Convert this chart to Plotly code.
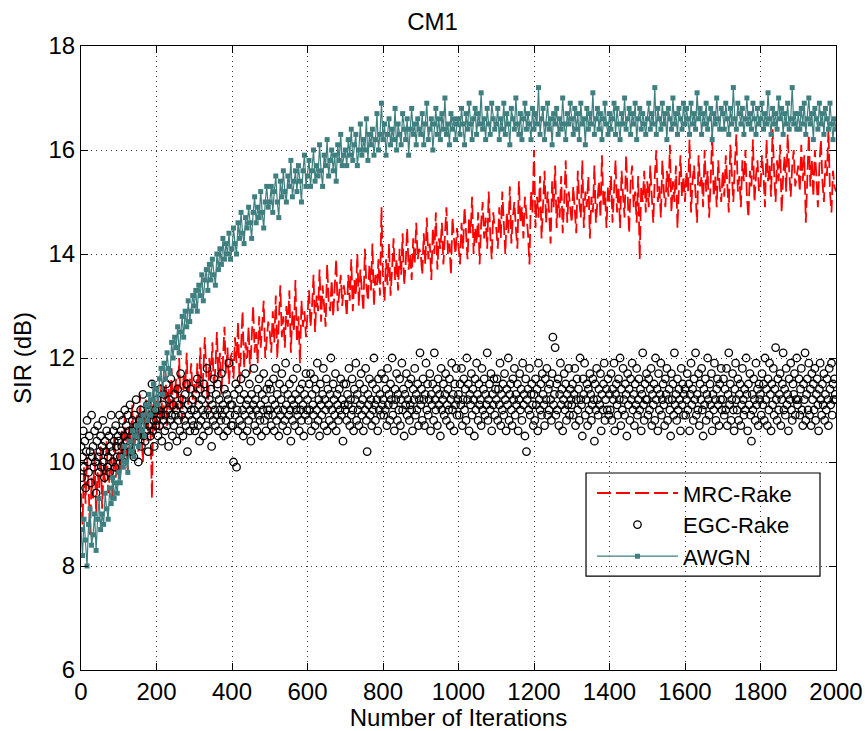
import plotly.graph_objects as go

# ---- data (SIR in dB vs. iteration) ----
# MRC-Rake and AWGN sampled every 4 iterations, EGC-Rake every 2 iterations
awgn_sir = [
    8.7, 8.2, 8.9, 8.5, 8.0, 8.8, 9.1, 8.4, 8.6, 9.0, 8.3, 8.9, 9.3, 8.7, 9.0, 8.8, 9.4, 9.1, 8.9, 9.5, 9.2, 9.7, 9.3, 9.6, 9.4,
    9.8, 9.6, 10.1, 9.9, 10.3, 10.0, 9.8, 10.4, 10.2, 10.6, 10.1, 10.5, 10.7, 10.3, 10.8, 10.6, 10.9, 10.5, 11.1, 10.8, 11.3, 10.9, 11.2, 11.5, 11.0,
    11.4, 11.1, 11.6, 11.8, 11.3, 11.9, 11.6, 12.1, 11.8, 11.7, 12.3, 12.0, 12.4, 12.2, 12.6, 12.1, 12.5, 12.8, 12.4, 12.9, 12.6, 13.1, 12.7, 12.9, 13.2,
    13.0, 13.3, 12.9, 13.4, 13.2, 13.6, 13.1, 13.5, 13.7, 13.3, 13.8, 13.5, 13.9, 13.6, 13.4, 14.0, 13.7, 14.1, 13.8, 14.3, 13.9, 14.2, 14.0, 14.4, 13.9,
    14.1, 14.5, 14.2, 14.0, 14.6, 14.3, 14.8, 14.4, 14.2, 14.7, 14.5, 14.9, 14.6, 14.3, 14.8, 15.1, 14.6, 14.9, 14.7, 15.2, 14.8, 14.5, 15.0, 15.3, 14.9,
    15.0, 15.3, 14.8, 15.2, 15.5, 15.0, 14.7, 15.4, 15.1, 15.6, 15.2, 15.0, 15.5, 15.3, 15.8, 15.1, 15.4, 15.6, 15.2, 15.7, 15.4, 15.0, 15.6, 15.9, 15.3,
    15.5, 15.8, 15.3, 15.6, 16.0, 15.4, 15.7, 15.5, 16.1, 15.6, 15.3, 15.9, 15.7, 16.2, 15.5, 15.8, 16.0, 15.6, 15.9, 15.4, 16.1, 15.8, 16.3, 15.7, 15.9,
    16.0, 15.7, 16.2, 15.9, 16.4, 15.8, 16.1, 16.3, 15.7, 16.0, 16.5, 15.9, 16.2, 16.0, 16.6, 15.8, 16.3, 16.1, 16.4, 15.9, 16.2, 16.7, 16.0, 16.3, 16.9,
    16.2, 16.5, 15.9, 16.3, 16.6, 16.1, 16.4, 16.2, 16.8, 16.0, 16.5, 16.3, 16.1, 16.7, 16.4, 16.2, 16.6, 15.9, 16.4, 16.8, 16.3, 16.5, 16.1, 16.6, 16.4,
    16.3, 16.7, 16.1, 16.5, 16.9, 16.2, 16.4, 16.6, 16.0, 16.5, 16.8, 16.3, 16.6, 16.2, 16.7, 16.4, 17.0, 16.3, 16.5, 16.1, 16.7, 16.4, 16.6, 16.2, 16.5,
    16.6, 16.3, 16.8, 16.5, 16.1, 16.7, 16.4, 16.9, 16.5, 16.2, 16.6, 16.8, 16.3, 16.7, 16.5, 17.1, 16.4, 16.6, 16.2, 16.8, 16.5, 16.3, 16.9, 16.6, 16.4,
    16.5, 16.8, 16.2, 16.6, 16.4, 16.9, 16.3, 16.7, 16.5, 16.1, 16.8, 16.6, 16.4, 17.0, 16.5, 16.3, 16.7, 16.2, 16.6, 16.9, 16.4, 16.7, 16.5, 16.2, 16.8,
    16.4, 16.7, 16.5, 17.2, 16.3, 16.6, 16.8, 16.2, 16.5, 16.9, 16.4, 16.6, 16.1, 16.7, 16.5, 16.8, 16.3, 16.6, 16.4, 17.0, 16.5, 16.2, 16.7, 16.5, 16.9,
    16.6, 16.3, 16.8, 16.4, 16.7, 16.2, 16.9, 16.5, 16.6, 16.1, 16.8, 16.4, 16.7, 16.5, 17.1, 16.3, 16.6, 16.8, 16.4, 16.7, 16.2, 16.6, 16.9, 16.5, 16.3,
    16.7, 16.4, 16.6, 16.9, 16.3, 16.8, 16.5, 16.2, 16.7, 16.5, 17.0, 16.4, 16.6, 16.8, 16.3, 16.7, 16.5, 16.9, 16.2, 16.6, 16.8, 16.4, 16.7, 16.5, 16.3,
    16.6, 16.9, 16.4, 16.7, 16.5, 17.2, 16.3, 16.8, 16.6, 16.4, 16.9, 16.5, 16.7, 16.2, 16.8, 16.6, 16.4, 17.0, 16.5, 16.7, 16.3, 16.8, 16.6, 16.4, 16.9,
    16.5, 16.8, 16.6, 16.3, 16.9, 16.5, 16.7, 16.4, 17.1, 16.6, 16.8, 16.3, 16.7, 16.5, 16.9, 16.4, 16.6, 16.8, 16.2, 16.7, 16.5, 17.0, 16.6, 16.4, 16.8,
    16.7, 16.4, 16.9, 16.6, 16.3, 16.8, 16.5, 17.2, 16.6, 16.4, 16.9, 16.7, 16.5, 16.8, 16.3, 16.6, 17.0, 16.5, 16.7, 16.4, 16.9, 16.6, 16.3, 16.8, 16.5,
    16.6, 16.9, 16.4, 16.7, 16.5, 17.1, 16.6, 16.3, 16.8, 16.5, 16.7, 16.4, 17.0, 16.6, 16.8, 16.3, 16.7, 16.5, 16.9, 16.4, 16.6, 17.2, 16.5, 16.7, 16.4,
    16.7, 16.4, 16.8, 16.5, 16.9, 16.3, 16.6, 17.0, 16.5, 16.7, 16.2, 16.8, 16.6, 16.4, 16.9, 16.5, 16.7, 16.3, 16.8, 16.6, 16.4, 16.9, 16.5, 16.2, 16.6,
    16.4,
]

mrc_sir = [
    9.4, 8.8, 9.9, 9.2, 10.1, 9.6, 8.6, 9.7, 9.3, 10.2, 9.0, 9.8, 9.5, 10.3, 9.1, 9.9, 9.6, 10.4, 9.4, 9.8, 10.1, 9.3, 10.5, 9.7, 10.0,
    10.2, 9.7, 10.6, 10.0, 10.9, 10.3, 9.8, 10.7, 10.4, 11.1, 10.1, 10.5, 10.9, 10.2, 11.3, 10.6, 10.0, 10.8, 11.2, 10.4, 11.0, 10.7, 9.3, 11.4, 10.6,
    10.9, 11.3, 10.6, 11.5, 10.8, 11.1, 11.7, 10.7, 11.4, 11.0, 11.8, 10.9, 11.3, 11.6, 11.0, 12.0, 11.2, 10.8, 11.7, 11.4, 12.1, 11.1, 11.5, 11.9, 11.2,
    11.5, 11.1, 11.9, 11.4, 12.2, 11.3, 11.7, 12.4, 11.5, 11.0, 12.0, 11.6, 12.3, 11.4, 11.8, 12.5, 11.6, 12.1, 11.3, 11.9, 12.6, 11.7, 12.2, 11.5, 12.0,
    12.1, 11.6, 12.4, 11.9, 12.7, 11.5, 12.2, 12.9, 11.8, 12.3, 12.0, 12.6, 11.7, 12.4, 13.0, 12.1, 12.5, 11.9, 12.8, 12.2, 12.6, 13.1, 12.0, 12.4, 12.7,
    12.5, 12.1, 12.9, 12.3, 13.2, 12.0, 12.7, 13.4, 12.4, 12.8, 12.2, 13.0, 12.6, 13.3, 12.1, 12.9, 12.5, 13.5, 12.3, 12.8, 11.9, 13.1, 12.6, 12.9, 12.4,
    12.8, 13.3, 12.6, 13.0, 13.6, 12.5, 13.2, 12.9, 13.7, 12.7, 13.4, 13.0, 12.6, 13.8, 13.1, 12.9, 13.5, 12.8, 13.3, 13.9, 12.9, 13.2, 13.6, 13.0, 13.4,
    13.2, 12.8, 13.6, 13.1, 13.9, 12.9, 13.5, 13.2, 14.0, 13.0, 13.7, 13.3, 12.9, 14.1, 13.4, 13.1, 13.8, 13.3, 14.2, 13.0, 13.6, 13.4, 13.9, 13.2, 14.9,
    13.5, 13.1, 13.9, 13.4, 14.2, 13.2, 13.7, 14.3, 13.5, 13.9, 13.3, 14.1, 13.6, 14.4, 13.4, 13.8, 14.5, 13.7, 14.0, 13.5, 14.3, 13.8, 14.6, 13.9, 14.1,
    14.0, 13.6, 14.4, 13.8, 14.7, 13.9, 14.2, 13.5, 14.5, 14.0, 14.8, 13.7, 14.3, 14.1, 14.6, 13.8, 14.4, 14.9, 14.0, 14.2, 13.6, 14.7, 14.3, 14.0, 14.5,
    14.2, 13.8, 14.6, 14.1, 14.9, 14.3, 13.9, 14.7, 14.4, 15.1, 14.0, 14.5, 14.2, 14.8, 13.8, 14.6, 15.0, 14.3, 14.7, 14.1, 15.2, 14.4, 13.9, 14.8, 14.5,
    14.5, 14.1, 14.9, 14.3, 15.2, 14.6, 14.0, 14.8, 14.4, 15.3, 14.2, 14.7, 15.0, 14.5, 14.1, 15.4, 14.6, 14.9, 14.3, 15.1, 14.7, 14.4, 13.8, 15.2, 14.8,
    16.0, 14.5, 15.1, 14.7, 15.5, 14.3, 14.9, 15.6, 14.6, 15.2, 14.8, 14.2, 15.4, 14.9, 15.7, 14.5, 15.1, 14.7, 15.5, 14.4, 15.0, 15.8, 14.6, 15.2, 14.9,
    14.6, 15.3, 14.9, 14.4, 15.6, 15.0, 14.7, 15.8, 14.5, 15.2, 14.9, 15.5, 14.3, 15.1, 14.8, 15.7, 14.6, 15.0, 15.4, 14.7, 15.9, 14.9, 15.2, 14.5, 15.3,
    15.0, 15.5, 14.6, 15.2, 15.8, 14.8, 15.3, 14.5, 15.6, 15.1, 14.7, 15.9, 15.0, 14.4, 15.4, 15.7, 14.9, 15.2, 14.6, 15.5, 13.9, 15.3, 15.0, 15.6, 14.8,
    15.4, 14.9, 15.7, 15.1, 14.6, 15.5, 16.0, 15.0, 15.3, 14.7, 15.8, 15.2, 14.9, 15.6, 15.1, 16.1, 14.8, 15.4, 15.0, 15.7, 14.5, 15.3, 15.9, 15.1, 15.5,
    15.0, 15.6, 15.2, 16.2, 14.8, 15.4, 15.7, 15.1, 14.6, 15.9, 15.3, 15.5, 14.9, 16.0, 15.2, 15.6, 14.7, 15.4, 16.3, 15.1, 15.5, 14.9, 15.8, 15.3, 15.0,
    15.6, 15.1, 15.9, 15.3, 14.8, 16.1, 15.4, 15.0, 15.7, 16.3, 15.2, 15.5, 14.9, 15.8, 15.4, 16.0, 15.1, 14.7, 15.6, 15.3, 16.2, 15.0, 15.5, 15.8, 15.2,
    15.3, 15.9, 15.5, 14.9, 16.2, 15.4, 15.7, 15.1, 16.4, 15.6, 15.0, 15.8, 15.4, 16.1, 14.8, 15.5, 15.9, 15.2, 16.3, 15.6, 15.1, 15.7, 16.0, 15.3, 15.5,
    15.7, 15.2, 16.1, 15.4, 15.9, 14.6, 15.6, 16.3, 15.3, 15.8, 15.1, 16.0, 15.5, 14.9, 15.7, 16.2, 15.4, 15.0, 15.8, 15.5, 16.4, 15.2, 14.8, 15.6, 15.3,
    15.2,
]

egc_sir = [
    10.3, 9.7, 10.1, 10.6, 9.9, 10.4, 9.5, 10.2, 10.8, 10.0, 9.8, 10.5, 10.2, 9.6, 10.9, 10.1, 10.3, 9.9, 10.6, 10.0, 9.4, 10.4, 10.7, 10.1, 9.8,
    10.2, 10.5, 9.9, 10.3, 10.8, 10.0, 9.7, 10.4, 10.2, 10.6, 9.9, 10.1, 10.5, 9.8, 10.3, 10.9, 10.2, 10.0, 10.6, 10.4, 9.9, 10.7, 10.3, 10.1, 10.5,
    10.4, 10.9, 10.1, 10.6, 10.3, 10.8, 10.0, 10.5, 11.0, 10.2, 10.7, 10.4, 10.9, 10.3, 10.6, 11.1, 10.5, 10.2, 10.8, 10.6, 10.1, 10.9, 10.4, 11.2, 10.7,
    10.5, 10.0, 10.8, 10.6, 11.0, 10.3, 10.7, 11.3, 10.5, 10.9, 10.4, 10.8, 10.6, 11.1, 10.2, 10.7, 11.0, 10.5, 10.9, 11.5, 10.6, 10.8, 10.3, 11.0, 10.7,
    10.8, 11.2, 10.5, 11.0, 10.7, 11.4, 10.9, 10.4, 11.1, 10.8, 11.3, 10.6, 10.9, 11.5, 10.7, 11.0, 10.3, 11.2, 10.8, 11.6, 10.9, 10.5, 11.1, 10.7, 11.3,
    10.9, 11.0, 10.4, 11.4, 10.8, 11.1, 10.6, 11.7, 10.9, 11.2, 10.5, 11.0, 10.8, 11.3, 10.7, 11.5, 10.2, 11.1, 10.9, 10.6, 11.4, 11.0, 10.8, 11.2, 10.7,
    11.0, 10.6, 11.3, 10.9, 11.6, 10.7, 11.1, 10.4, 11.4, 10.8, 11.2, 11.0, 10.5, 11.5, 10.9, 11.3, 10.7, 11.8, 11.0, 10.6, 11.2, 10.9, 11.4, 10.3, 11.1,
    10.8, 11.6, 11.0, 10.7, 11.3, 10.9, 11.5, 10.6, 11.2, 11.0, 10.8, 11.7, 10.9, 11.1, 10.5, 11.4, 11.0, 10.8, 11.3, 10.6, 11.2, 11.9, 10.9, 11.1, 10.7,
    11.1, 10.7, 10.0, 11.3, 10.9, 11.5, 9.9, 11.0, 10.6, 11.4, 10.8, 11.2, 11.6, 10.7, 11.0, 10.5, 11.3, 10.9, 11.7, 11.1, 10.6, 11.2, 10.8, 11.5, 11.0,
    10.4, 11.3, 10.9, 11.1, 11.8, 10.7, 11.2, 11.0, 10.6, 11.4, 10.9, 11.6, 10.8, 11.1, 10.5, 11.3, 11.0, 11.7, 10.8, 11.2, 10.6, 11.4, 11.0, 10.9, 11.5,
    11.0, 11.4, 10.7, 11.2, 10.9, 11.6, 10.6, 11.1, 11.8, 10.8, 11.3, 11.0, 10.5, 11.5, 10.9, 11.2, 11.7, 10.7, 11.0, 11.4, 10.8, 11.9, 11.1, 10.6, 11.3,
    10.9, 11.5, 11.0, 10.4, 11.2, 10.8, 11.6, 11.1, 10.7, 11.3, 11.0, 11.8, 10.9, 11.2, 10.6, 11.4, 11.0, 10.8, 11.5, 11.1, 10.5, 11.3, 10.9, 11.7, 11.0,
    11.2, 10.8, 11.5, 11.0, 11.7, 10.6, 11.3, 11.1, 10.9, 11.6, 10.7, 11.4, 11.0, 11.9, 10.8, 11.2, 10.5, 11.5, 11.1, 10.9, 11.3, 11.8, 10.7, 11.2, 11.0,
    11.6, 10.6, 11.4, 11.1, 10.8, 11.3, 12.0, 11.0, 10.7, 11.5, 11.2, 10.9, 11.7, 10.6, 11.3, 11.1, 10.8, 11.4, 11.0, 11.6, 10.9, 11.2, 10.4, 11.5, 11.1,
    11.0, 11.5, 10.8, 11.3, 11.1, 11.8, 10.7, 11.2, 10.9, 11.6, 11.0, 10.6, 11.4, 11.2, 11.9, 10.8, 11.3, 11.0, 10.7, 11.5, 11.1, 11.7, 10.9, 11.2, 10.6,
    11.4, 11.0, 11.8, 10.8, 10.2, 11.3, 11.1, 11.6, 10.9, 11.2, 10.7, 11.5, 11.0, 12.0, 11.1, 10.8, 11.4, 11.2, 10.6, 11.6, 11.0, 11.3, 10.9, 11.7, 11.1,
    11.2, 10.9, 11.6, 11.0, 11.4, 10.7, 11.8, 11.1, 11.3, 10.8, 11.5, 11.2, 12.0, 10.9, 11.1, 10.6, 11.4, 11.2, 11.7, 10.8, 11.3, 11.0, 11.6, 10.7, 11.2,
    11.9, 11.0, 11.4, 10.5, 11.3, 11.1, 11.7, 10.9, 11.2, 11.5, 10.8, 11.1, 11.6, 11.0, 10.6, 11.4, 11.2, 11.8, 10.9, 11.3, 11.0, 11.5, 10.7, 11.2, 12.1,
    11.1, 11.4, 10.8, 11.6, 11.2, 10.7, 11.3, 11.9, 11.0, 11.5, 10.9, 11.2, 11.7, 10.6, 11.3, 11.1, 11.5, 10.8, 12.1, 11.2, 11.0, 11.4, 10.7, 11.6, 11.1,
    11.3, 10.5, 11.8, 11.0, 11.2, 11.5, 10.9, 11.3, 11.7, 10.8, 11.1, 11.4, 11.0, 11.6, 10.7, 11.2, 11.9, 11.0, 11.3, 10.6, 11.5, 11.1, 11.8, 10.9, 11.2,
    11.3, 10.9, 11.5, 11.1, 11.8, 10.7, 11.2, 11.6, 11.0, 11.4, 10.8, 12.0, 11.2, 11.5, 10.6, 11.3, 11.1, 11.7, 10.9, 11.4, 11.2, 10.5, 11.6, 11.0, 11.9,
    11.3, 10.8, 11.5, 11.1, 11.2, 10.7, 11.8, 11.0, 11.4, 11.6, 10.9, 11.3, 11.1, 12.1, 10.8, 11.2, 11.5, 11.0, 11.7, 10.6, 11.3, 11.1, 11.6, 10.9, 11.4,
    11.2, 11.6, 10.8, 11.4, 11.1, 11.9, 10.7, 11.3, 11.0, 11.5, 10.9, 11.7, 11.2, 10.6, 11.4, 11.1, 12.0, 10.8, 11.3, 11.5, 11.0, 10.7, 11.6, 11.2, 11.8,
    10.9, 11.3, 11.1, 11.5, 10.6, 11.2, 11.7, 11.0, 11.4, 10.8, 11.9, 11.1, 11.3, 10.5, 11.6, 10.2, 11.2, 11.4, 11.0, 11.8, 10.9, 11.3, 11.5, 11.1, 10.7,
    11.3, 10.8, 11.6, 11.1, 11.4, 10.6, 11.9, 11.2, 11.0, 11.5, 10.9, 11.7, 11.3, 11.1, 10.7, 11.6, 11.2, 11.8, 10.9, 11.4, 11.0, 11.5, 11.2, 10.8, 11.7,
    12.4, 11.1, 11.3, 12.2, 10.9, 11.5, 11.0, 11.6, 10.7, 11.3, 11.9, 11.1, 11.4, 10.6, 11.2, 11.7, 11.0, 11.5, 10.8, 11.3, 11.1, 11.8, 10.9, 11.4, 11.2,
    11.1, 11.5, 10.9, 11.3, 11.8, 10.7, 11.2, 11.6, 11.0, 11.4, 10.8, 12.0, 11.2, 11.1, 10.5, 11.6, 11.3, 11.9, 10.9, 11.2, 11.5, 10.7, 11.4, 11.0, 11.7,
    11.3, 10.8, 11.1, 11.6, 11.2, 10.4, 11.5, 11.0, 11.8, 11.2, 10.9, 11.4, 11.1, 11.7, 10.6, 11.3, 11.0, 11.5, 11.9, 10.8, 11.2, 11.4, 11.0, 11.6, 10.9,
    11.3, 11.0, 11.7, 10.8, 11.4, 11.2, 11.9, 10.6, 11.3, 11.5, 11.1, 10.9, 11.6, 11.2, 12.0, 10.7, 11.4, 11.0, 11.8, 11.2, 10.9, 11.5, 11.3, 10.5, 11.7,
    11.1, 11.4, 10.8, 11.6, 11.2, 11.9, 11.0, 11.3, 10.7, 11.5, 11.1, 11.8, 10.9, 11.2, 11.6, 11.0, 11.4, 10.6, 11.3, 12.1, 11.1, 10.8, 11.5, 11.2, 11.7,
    11.2, 10.9, 11.6, 11.0, 11.4, 11.8, 10.7, 11.3, 11.1, 11.5, 10.8, 12.0, 11.2, 11.4, 10.6, 11.7, 11.0, 11.3, 11.9, 10.9, 11.2, 11.5, 11.1, 10.7, 11.6,
    11.3, 11.8, 10.8, 11.2, 11.4, 11.0, 10.5, 11.7, 11.2, 11.5, 10.9, 12.1, 11.1, 11.3, 10.8, 11.6, 11.0, 11.4, 11.2, 10.6, 11.8, 11.1, 11.5, 10.9, 11.3,
    11.4, 10.9, 11.2, 11.7, 11.0, 11.5, 10.6, 11.3, 11.9, 11.1, 11.4, 10.8, 11.6, 11.2, 12.1, 10.9, 11.3, 11.0, 11.7, 10.7, 11.5, 11.2, 11.8, 11.0, 10.5,
    11.4, 11.1, 11.6, 10.8, 11.3, 12.0, 11.2, 10.9, 11.5, 11.1, 11.7, 10.6, 11.3, 11.0, 11.9, 11.2, 10.8, 11.4, 11.6, 11.1, 10.7, 11.5, 11.2, 11.8, 11.0,
    11.2, 11.6, 10.9, 11.4, 11.0, 11.8, 10.7, 11.3, 12.1, 11.1, 11.5, 10.8, 11.2, 11.7, 11.0, 10.6, 11.4, 11.9, 11.2, 11.0, 11.6, 10.8, 11.3, 11.5, 10.7,
    11.1, 11.8, 11.2, 10.9, 11.4, 11.0, 12.0, 11.3, 10.6, 11.5, 11.1, 11.7, 10.9, 10.4, 11.3, 11.0, 11.6, 11.2, 10.8, 11.9, 11.1, 11.4, 10.7, 11.5, 11.2,
    11.3, 10.9, 11.7, 11.1, 11.5, 10.8, 12.0, 11.2, 11.4, 10.7, 11.6, 11.0, 11.9, 11.3, 10.6, 11.5, 11.1, 11.8, 10.9, 11.4, 12.2, 11.2, 10.8, 11.6, 11.0,
    11.3, 11.7, 10.7, 11.2, 11.5, 12.1, 11.0, 11.4, 10.9, 11.8, 11.1, 11.3, 10.6, 11.6, 11.2, 11.9, 11.0, 10.8, 11.5, 11.3, 11.7, 10.9, 11.2, 12.0, 11.1,
    11.2, 11.6, 10.9, 11.4, 11.8, 11.0, 10.7, 11.5, 11.2, 12.1, 10.8, 11.3, 11.6, 11.0, 11.9, 10.9, 11.4, 10.7, 11.7, 11.2, 11.5, 11.0, 11.8, 10.8, 11.3,
    11.6, 11.1, 10.6, 11.4, 11.9, 11.2, 10.9, 11.5, 11.1, 11.7, 10.8, 11.3, 11.0, 11.6, 11.2, 10.7, 11.8, 11.4, 11.1, 11.9, 10.9, 11.5, 11.2, 11.6, 11.3,
    11.2,
]

assert len(awgn_sir) == 501, len(awgn_sir)
assert len(mrc_sir) == 501, len(mrc_sir)
assert len(egc_sir) == 1001, len(egc_sir)

iterations_4 = list(range(0, 2001, 4))   # MRC-Rake, AWGN sample points
iterations_2 = list(range(0, 2001, 2))   # EGC-Rake sample points

x_ticks = [0, 200, 400, 600, 800, 1000, 1200, 1400, 1600, 1800, 2000]
y_ticks = [6, 8, 10, 12, 14, 16, 18]

FONT = "Liberation Sans, Arial, sans-serif"
FS = 24
TEAL = "#3f7f7f"

fig = go.Figure()
fig.add_trace(go.Scatter(
    x=iterations_4, y=mrc_sir, name="MRC-Rake", mode="lines",
    line=dict(color="#ff0000", width=1.8, dash="14px,5px"), legendrank=1,
))
fig.add_trace(go.Scatter(
    x=iterations_2, y=egc_sir, name="EGC-Rake", mode="markers",
    marker=dict(symbol="circle-open", size=7.5, color="black", line=dict(width=1.3, color="black")),
    legendrank=2,
))
fig.add_trace(go.Scatter(
    x=iterations_4, y=awgn_sir, name="AWGN", mode="lines+markers",
    line=dict(color=TEAL, width=1.2),
    marker=dict(symbol="square", size=5, color=TEAL), legendrank=3,
))

axis_common = dict(
    showline=True, linecolor="black", linewidth=1.2, mirror="ticks",
    ticks="inside", ticklen=7, tickcolor="black",
    showgrid=True, gridcolor="#333333", gridwidth=1, griddash="1px,4px",
    zeroline=False, automargin=False,
    tickfont=dict(family=FONT, size=FS, color="black"),
)

# legend frame (white box with black border, drawn above the grid, below the data)
fig.add_shape(type="rect", xref="paper", yref="paper",
              x0=0.6689, x1=0.9788, y0=0.1506, y1=0.3157,
              line=dict(color="black", width=1.2), fillcolor="white", layer="between")

fig.update_layout(
    width=865, height=731,
    margin=dict(l=81, r=29, t=46, b=61),
    paper_bgcolor="white", plot_bgcolor="white",
    font=dict(family=FONT, size=FS, color="black"),
    title=dict(text="CM1", x=0.5, xanchor="center", y=0.971, yanchor="middle",
               font=dict(family=FONT, size=FS, color="black")),
    xaxis=dict(range=[0, 2000], tickvals=x_ticks, **axis_common,
               title=dict(text="Number of Iterations", standoff=2,
                          font=dict(family=FONT, size=FS))),
    yaxis=dict(range=[6, 18], tickvals=y_ticks, **axis_common,
               title=dict(text="SIR (dB)", standoff=9,
                          font=dict(family=FONT, size=FS))),
    legend=dict(x=0.6768, xanchor="left", y=0.317, yanchor="top",
                borderwidth=0, bgcolor="rgba(0,0,0,0)",
                font=dict(family=FONT, size=22), itemwidth=81,
                tracegroupgap=0),
    showlegend=True,
)

fig.write_html("out.html")
